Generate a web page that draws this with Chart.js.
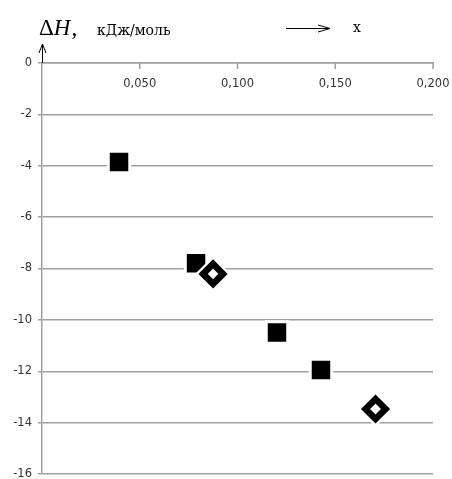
<!DOCTYPE html>
<html>
<head>
<meta charset="utf-8">
<script src="https://cdn.jsdelivr.net/npm/chart.js@4"></script>
<style>
  html,body{margin:0;padding:0;background:#fff;}
</style>
</head>
<body>
<canvas id="chart" width="452" height="479"></canvas>
<script>
// squares
squareX = [0.0394, 0.0788, 0.1202, 0.1427];
squareY = [-3.85, -7.80, -10.49, -11.95];
// diamonds
diamondX = [0.0875, 0.1706];
diamondY = [-8.21, -13.47];

xTicks = [0, 0.05, 0.1, 0.15, 0.2];
yTicks = [0, -2, -4, -6, -8, -10, -12, -14, -16];

function pts(xs, ys){
  let out = [];
  for (let i = 0; i < xs.length; i++) out.push({x: xs[i], y: ys[i]});
  return out;
}

function noPad(s){
  s.paddingLeft = 0; s.paddingRight = 0; s.paddingTop = 0; s.paddingBottom = 0;
}

// title, arrows
var headerPlugin = {
  id: 'header',
  afterDraw: function(chart){
    let ctx = chart.ctx;
    let left = chart.chartArea.left, top = chart.chartArea.top;
    ctx.save();
    ctx.fillStyle = '#000';
    ctx.textBaseline = 'alphabetic';
    ctx.font = '23px "Liberation Serif"';
    ctx.fillText('\u0394', 39, 35);
    let w = ctx.measureText('\u0394').width;
    ctx.font = 'italic 23px "Liberation Serif"';
    ctx.fillText('H', 39 + w, 35);
    w += ctx.measureText('H').width;
    ctx.font = '23px "Liberation Serif"';
    ctx.fillText(',', 39 + w + 1, 35);
    ctx.font = '14px "DejaVu Serif"';
    ctx.fillText('кДж/моль', 97, 35);
    ctx.fillText('x', 353, 32);

    ctx.strokeStyle = '#000';
    ctx.lineWidth = 1;
    ctx.beginPath();
    ctx.moveTo(286, 28.5); ctx.lineTo(329, 28.5);
    ctx.moveTo(318, 25); ctx.lineTo(330, 28.5); ctx.lineTo(318, 32);
    ctx.stroke();

    ctx.beginPath();
    ctx.moveTo(left + 0.5, top); ctx.lineTo(left + 0.5, 44);
    ctx.moveTo(left - 3, 53); ctx.lineTo(left + 0.5, 44); ctx.lineTo(left + 4, 53);
    ctx.stroke();
    ctx.restore();
  }
};

// x-axis tick marks downward from the zero line
var xTickPlugin = {
  id: 'xtickmarks',
  afterDatasetsDraw: function(chart){
    let ctx = chart.ctx;
    let xs = chart.scales.x, ys = chart.scales.y;
    let y0 = ys.getPixelForValue(0);
    ctx.save();
    ctx.strokeStyle = '#a0a0a0';
    ctx.lineWidth = 1.5;
    ctx.beginPath();
    xs.ticks.forEach(function(t){
      if (t.value === 0) return;
      let px = xs.getPixelForValue(t.value);
      ctx.moveTo(px, y0); ctx.lineTo(px, y0 + 6);
    });
    ctx.stroke();
    ctx.restore();
  }
};

new Chart(document.getElementById('chart'), {
  type: 'scatter',
  data: {
    datasets: [{
      label: 'squares',
      data: pts(squareX, squareY),
      pointStyle: 'rect',
      radius: 15.2,
      backgroundColor: '#000',
      borderColor: '#fff',
      borderWidth: 3,
      order: 3
    }, {
      label: 'halo',
      data: pts(diamondX, diamondY),
      pointStyle: 'rectRot',
      radius: 18,
      backgroundColor: '#fff',
      borderWidth: 0,
      order: 2
    }, {
      label: 'diamonds',
      data: pts(diamondX, diamondY),
      pointStyle: 'rectRot',
      radius: 10,
      backgroundColor: '#fff',
      borderColor: '#000',
      borderWidth: 6.5,
      order: 1
    }]
  },
  options: {
    responsive: false,
    animation: false,
    events: [],
    layout: {autoPadding: false, padding: {top: 63, right: 19, bottom: 5, left: 0}},
    plugins: {legend: {display: false}, tooltip: {enabled: false}},
    scales: {
      x: {
        type: 'linear',
        min: 0, max: 0.2,
        position: {y: 0},
        afterBuildTicks: function(s){ s.ticks = xTicks.map(function(v){ return {value: v}; }); },
        afterFit: function(s){ s.height = 0; noPad(s); },
        border: {display: true, color: '#a0a0a0', width: 1.5},
        grid: {display: false, drawTicks: false},
        ticks: {
          padding: 14,
          color: '#333',
          font: {family: 'DejaVu Sans', size: 11.5},
          callback: function(v){ return v === 0 ? '' : v.toFixed(3).replace('.', ','); }
        }
      },
      y: {
        min: -16, max: 0,
        afterBuildTicks: function(s){ s.ticks = yTicks.map(function(v){ return {value: v}; }); },
        afterFit: function(s){ s.width = 42; noPad(s); },
        border: {display: true, color: '#a0a0a0', width: 1.5},
        grid: {color: '#a0a0a0', lineWidth: 1.5, tickLength: 4},
        ticks: {
          padding: 6,
          color: '#333',
          font: {family: 'DejaVu Sans', size: 11.5}
        }
      }
    }
  },
  plugins: [headerPlugin, xTickPlugin]
});
</script>
</body>
</html>
